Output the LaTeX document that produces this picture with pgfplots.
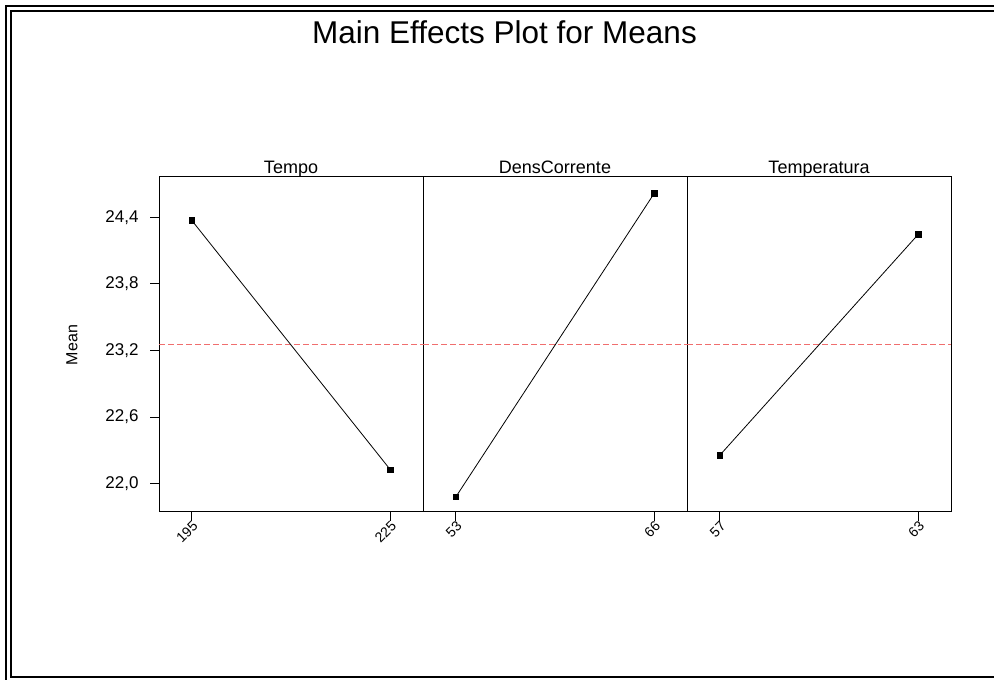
\documentclass[border=0pt]{standalone}
\usepackage{pgfplots}
\pgfplotsset{compat=1.18}
\usepackage{fontspec}
\setmainfont{Liberation Sans}
\definecolor{meanred}{RGB}{240,110,110}
\pgfplotsset{
  panel/.style={
    anchor=south west,
    scale only axis, width=264pt, height=335pt,
    xmin=-0.165, xmax=1.165, ymin=21.744, ymax=24.764,
    xtick={0,1}, tick align=outside, xtick pos=bottom, ytick pos=left,
    major tick length=9pt,
    axis line style={line width=1pt},
    tick style={line width=1pt, black},
    x tick label style={rotate=45, anchor=north east, font=\fontsize{14}{16}\selectfont, xshift=4pt, yshift=4pt},
    y tick label style={font=\fontsize{17}{19}\selectfont, xshift=-8pt},
    title style={at={(0.5,1)}, anchor=base, yshift=-3pt, font=\fontsize{18}{20}\selectfont},
    /pgf/number format/assume math mode=true,
    clip=false,
  },
  meanline/.style={color=meanred, line width=1pt, dash pattern=on 6pt off 3pt},
  effect/.style={black, line width=0.8pt, mark=square*, mark size=2.7pt, mark options={solid}},
}
\begin{document}
\begin{tikzpicture}[x=1pt, y=1pt]
\useasboundingbox (0pt,0pt) rectangle (994pt,680pt);
\clip (0pt,0pt) rectangle (994pt,680pt);
% frame
\draw[line width=2pt] (5.7pt,-10pt) -- (5.7pt,674.3pt) -- (1010pt,674.3pt);
\draw[line width=2pt] (1010pt,2.5pt) -- (11pt,2.5pt) -- (11pt,669pt) -- (1010pt,669pt);
\node[anchor=base, font=\fontsize{31.5}{35}\selectfont] at (504.5pt,636pt) {Main Effects Plot for Means};
\node[rotate=90, font=\fontsize{16}{18}\selectfont] at (72pt,335pt) {Mean};

\begin{axis}[panel, at={(159pt,168pt)}, title={Tempo},
  xticklabels={195,225},
  ytick={22,22.6,23.2,23.8,24.4},
  yticklabel style={/pgf/number format/.cd, fixed, fixed zerofill, precision=1, use comma}]
\addplot[meanline] coordinates {(-0.165,23.25) (1.165,23.25)};
\addplot[effect] coordinates {(0,24.373) (1,22.126)};
\end{axis}

\begin{axis}[panel, at={(423pt,168pt)}, title={DensCorrente},
  xticklabels={53,66}, ytick=\empty]
\addplot[meanline] coordinates {(-0.165,23.25) (1.165,23.25)};
\addplot[effect] coordinates {(0,21.879) (1,24.617)};
\end{axis}

\begin{axis}[panel, at={(687pt,168pt)}, title={Temperatura},
  xticklabels={57,63}, ytick=\empty]
\addplot[meanline] coordinates {(-0.165,23.25) (1.165,23.25)};
\addplot[effect] coordinates {(0,22.255) (1,24.247)};
\end{axis}
\end{tikzpicture}
\end{document}
